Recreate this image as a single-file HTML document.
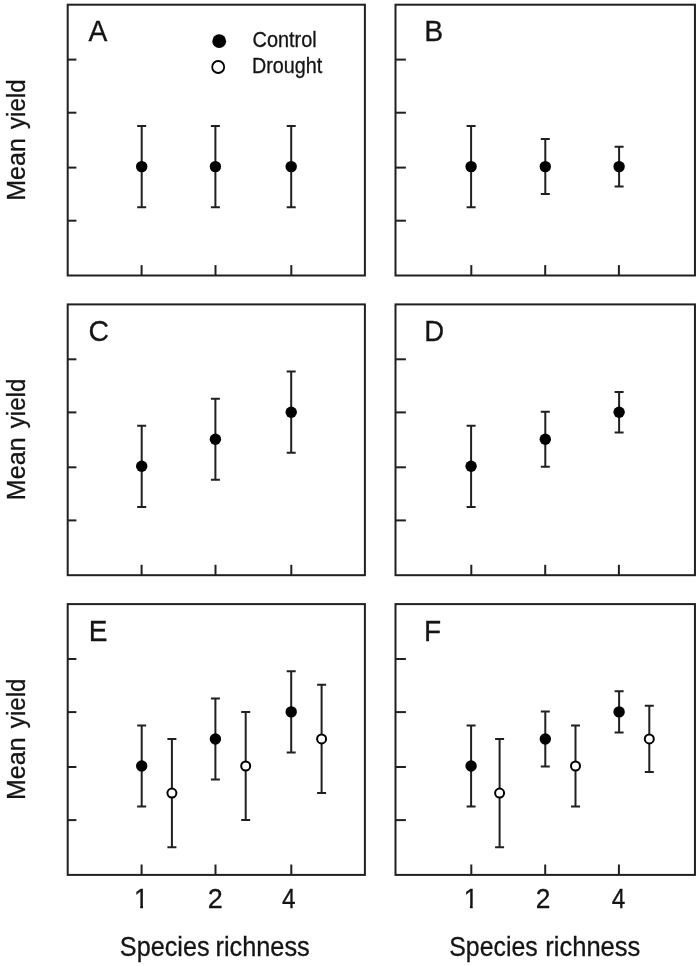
<!DOCTYPE html>
<html><head><meta charset="utf-8"><title>Mean yield vs species richness</title>
<style>html,body{margin:0;padding:0;background:#fff;width:700px;height:966px;overflow:hidden}svg{display:block}</style>
</head><body>
<svg width="700" height="966" viewBox="0 0 700 966">
<defs><clipPath id="c10"><rect x="-5" y="-30" width="40" height="26.88"/><rect x="6.54" y="-30" width="2.89" height="32"/></clipPath><clipPath id="c11"><rect x="-5" y="-30" width="40" height="26.88"/><rect x="6.54" y="-30" width="2.89" height="32"/></clipPath></defs>
<g stroke="#202020" stroke-width="2.0" fill="none" stroke-linecap="butt">
<rect x="67.7" y="4.7" width="297.2" height="270.8"/>
<line x1="67.7" y1="59.6" x2="76.4" y2="59.6"/>
<line x1="67.7" y1="112.7" x2="76.4" y2="112.7"/>
<line x1="67.7" y1="167.6" x2="76.4" y2="167.6"/>
<line x1="67.7" y1="220.7" x2="76.4" y2="220.7"/>
<line x1="141.6" y1="275.5" x2="141.6" y2="265.1"/>
<line x1="215.5" y1="275.5" x2="215.5" y2="265.1"/>
<line x1="291.3" y1="275.5" x2="291.3" y2="265.1"/>
<rect x="395.5" y="4.7" width="299.45" height="270.8"/>
<line x1="395.5" y1="59.6" x2="405.9" y2="59.6"/>
<line x1="395.5" y1="112.7" x2="405.9" y2="112.7"/>
<line x1="395.5" y1="167.6" x2="405.9" y2="167.6"/>
<line x1="395.5" y1="220.7" x2="405.9" y2="220.7"/>
<line x1="471.3" y1="275.5" x2="471.3" y2="265.1"/>
<line x1="545.2" y1="275.5" x2="545.2" y2="265.1"/>
<line x1="618.9" y1="275.5" x2="618.9" y2="265.1"/>
<rect x="67.7" y="304.4" width="297.2" height="270.8"/>
<line x1="67.7" y1="359.3" x2="76.4" y2="359.3"/>
<line x1="67.7" y1="412.4" x2="76.4" y2="412.4"/>
<line x1="67.7" y1="467.3" x2="76.4" y2="467.3"/>
<line x1="67.7" y1="520.4" x2="76.4" y2="520.4"/>
<line x1="141.6" y1="575.2" x2="141.6" y2="564.8"/>
<line x1="215.5" y1="575.2" x2="215.5" y2="564.8"/>
<line x1="291.3" y1="575.2" x2="291.3" y2="564.8"/>
<rect x="395.5" y="304.4" width="299.45" height="270.8"/>
<line x1="395.5" y1="359.3" x2="405.9" y2="359.3"/>
<line x1="395.5" y1="412.4" x2="405.9" y2="412.4"/>
<line x1="395.5" y1="467.3" x2="405.9" y2="467.3"/>
<line x1="395.5" y1="520.4" x2="405.9" y2="520.4"/>
<line x1="471.3" y1="575.2" x2="471.3" y2="564.8"/>
<line x1="545.2" y1="575.2" x2="545.2" y2="564.8"/>
<line x1="618.9" y1="575.2" x2="618.9" y2="564.8"/>
<rect x="67.7" y="604.1" width="297.2" height="270.8"/>
<line x1="67.7" y1="659" x2="76.4" y2="659"/>
<line x1="67.7" y1="712.1" x2="76.4" y2="712.1"/>
<line x1="67.7" y1="767" x2="76.4" y2="767"/>
<line x1="67.7" y1="820.1" x2="76.4" y2="820.1"/>
<line x1="141.6" y1="874.9" x2="141.6" y2="864.5"/>
<line x1="215.5" y1="874.9" x2="215.5" y2="864.5"/>
<line x1="291.3" y1="874.9" x2="291.3" y2="864.5"/>
<rect x="395.5" y="604.1" width="299.45" height="270.8"/>
<line x1="395.5" y1="659" x2="405.9" y2="659"/>
<line x1="395.5" y1="712.1" x2="405.9" y2="712.1"/>
<line x1="395.5" y1="767" x2="405.9" y2="767"/>
<line x1="395.5" y1="820.1" x2="405.9" y2="820.1"/>
<line x1="471.3" y1="874.9" x2="471.3" y2="864.5"/>
<line x1="545.2" y1="874.9" x2="545.2" y2="864.5"/>
<line x1="618.9" y1="874.9" x2="618.9" y2="864.5"/>
</g>
<g stroke="#202020" stroke-width="2.0" fill="none">
<path d="M141.7 126.03V207.18M137.2 126.03H146.2M137.2 207.18H146.2"/>
<path d="M215.4 126.03V207.18M210.9 126.03H219.9M210.9 207.18H219.9"/>
<path d="M291.2 126.03V207.18M286.7 126.03H295.7M286.7 207.18H295.7"/>
<path d="M471.1 126.03V207.18M466.6 126.03H475.6M466.6 207.18H475.6"/>
<path d="M545.3 139.12V194.08M540.8 139.12H549.8M540.8 194.08H549.8"/>
<path d="M619.1 146.64V186.56M614.6 146.64H623.6M614.6 186.56H623.6"/>
<path d="M141.7 425.73V506.88M137.2 425.73H146.2M137.2 506.88H146.2"/>
<path d="M215.4 398.68V479.82M210.9 398.68H219.9M210.9 479.82H219.9"/>
<path d="M291.2 371.62V452.77M286.7 371.62H295.7M286.7 452.77H295.7"/>
<path d="M471.1 425.73V506.88M466.6 425.73H475.6M466.6 506.88H475.6"/>
<path d="M545.3 411.77V466.73M540.8 411.77H549.8M540.8 466.73H549.8"/>
<path d="M619.1 391.91V432.49M614.6 391.91H623.6M614.6 432.49H623.6"/>
<path d="M141.7 725.42V806.58M137.2 725.42H146.2M137.2 806.58H146.2"/>
<path d="M215.4 698.38V779.53M210.9 698.38H219.9M210.9 779.53H219.9"/>
<path d="M291.2 671.33V752.48M286.7 671.33H295.7M286.7 752.48H295.7"/>
<path d="M171.9 738.95V847.15M167.4 738.95H176.4M167.4 847.15H176.4"/>
<path d="M245.7 711.9V820.1M241.2 711.9H250.2M241.2 820.1H250.2"/>
<path d="M321.6 684.85V793.05M317.1 684.85H326.1M317.1 793.05H326.1"/>
<path d="M471.1 725.42V806.58M466.6 725.42H475.6M466.6 806.58H475.6"/>
<path d="M545.3 711.47V766.43M540.8 711.47H549.8M540.8 766.43H549.8"/>
<path d="M619.1 691.34V732.46M614.6 691.34H623.6M614.6 732.46H623.6"/>
<path d="M499.6 738.95V847.15M495.1 738.95H504.1M495.1 847.15H504.1"/>
<path d="M575.5 725.42V806.58M571 725.42H580M571 806.58H580"/>
<path d="M649.3 705.79V772.11M644.8 705.79H653.8M644.8 772.11H653.8"/>
</g>
<circle cx="141.7" cy="166.6" r="5.7" fill="#000"/>
<circle cx="215.4" cy="166.6" r="5.7" fill="#000"/>
<circle cx="291.2" cy="166.6" r="5.7" fill="#000"/>
<circle cx="471.1" cy="166.6" r="5.7" fill="#000"/>
<circle cx="545.3" cy="166.6" r="5.7" fill="#000"/>
<circle cx="619.1" cy="166.6" r="5.7" fill="#000"/>
<circle cx="141.7" cy="466.3" r="5.7" fill="#000"/>
<circle cx="215.4" cy="439.25" r="5.7" fill="#000"/>
<circle cx="291.2" cy="412.2" r="5.7" fill="#000"/>
<circle cx="471.1" cy="466.3" r="5.7" fill="#000"/>
<circle cx="545.3" cy="439.25" r="5.7" fill="#000"/>
<circle cx="619.1" cy="412.2" r="5.7" fill="#000"/>
<circle cx="141.7" cy="766" r="5.7" fill="#000"/>
<circle cx="215.4" cy="738.95" r="5.7" fill="#000"/>
<circle cx="291.2" cy="711.9" r="5.7" fill="#000"/>
<circle cx="171.9" cy="793.05" r="4.5" fill="#fff" stroke="#000" stroke-width="2.0"/>
<circle cx="245.7" cy="766" r="4.5" fill="#fff" stroke="#000" stroke-width="2.0"/>
<circle cx="321.6" cy="738.95" r="4.5" fill="#fff" stroke="#000" stroke-width="2.0"/>
<circle cx="471.1" cy="766" r="5.7" fill="#000"/>
<circle cx="545.3" cy="738.95" r="5.7" fill="#000"/>
<circle cx="619.1" cy="711.9" r="5.7" fill="#000"/>
<circle cx="499.6" cy="793.05" r="4.5" fill="#fff" stroke="#000" stroke-width="2.0"/>
<circle cx="575.5" cy="766" r="4.5" fill="#fff" stroke="#000" stroke-width="2.0"/>
<circle cx="649.3" cy="738.95" r="4.5" fill="#fff" stroke="#000" stroke-width="2.0"/>
<circle cx="219.2" cy="41.2" r="6.9" fill="#000"/>
<circle cx="218.2" cy="67" r="6" fill="#fff" stroke="#000" stroke-width="1.8"/>
<g fill="#141414" stroke="#141414" stroke-width="0.3" font-family="'Liberation Sans', Arial, sans-serif" style="font-kerning:none">
<text transform="translate(88.44 41) scale(0.9585 1)" font-size="29.5">A</text>
<text transform="translate(424.27 41) scale(0.9617 1)" font-size="29.5">B</text>
<text transform="translate(88.56 340.5) scale(0.9635 1)" font-size="29.5">C</text>
<text transform="translate(424.34 340.6) scale(0.9329 1)" font-size="29.5">D</text>
<text transform="translate(88.8 640.6) scale(0.9507 1)" font-size="29.5">E</text>
<text transform="translate(424 640.6) scale(0.9502 1)" font-size="29.5">F</text>
<text transform="translate(252.59 47) scale(0.9341 1)" font-size="21.3">Control</text>
<text transform="translate(251.98 73.4) scale(0.9273 1)" font-size="21.3">Drought</text>
<text transform="translate(25.2 200.86) rotate(-90) scale(0.9436 1)" font-size="26.6">Mean</text>
<text transform="translate(25.2 128.96) rotate(-90) scale(0.9069 1)" font-size="26.6">yield</text>
<text transform="translate(25.2 500.16) rotate(-90) scale(0.9436 1)" font-size="26.6">Mean</text>
<text transform="translate(25.2 428.26) rotate(-90) scale(0.9069 1)" font-size="26.6">yield</text>
<text transform="translate(25.2 800.06) rotate(-90) scale(0.9436 1)" font-size="26.6">Mean</text>
<text transform="translate(25.2 728.16) rotate(-90) scale(0.9069 1)" font-size="26.6">yield</text>
<text transform="translate(207.74 908.2) scale(1.0000 1)" font-size="27.0">2</text>
<text transform="translate(282.04 908.2) scale(0.9040 1)" font-size="27.0">4</text>
<text transform="translate(535.68 908.2) scale(0.9756 1)" font-size="27.0">2</text>
<text transform="translate(611.74 908.2) scale(0.9040 1)" font-size="27.0">4</text>
<text clip-path="url(#c10)" transform="translate(133.94 908.2) scale(0.96 1)" font-size="27.0">1</text>
<text clip-path="url(#c11)" transform="translate(463.64 908.2) scale(0.96 1)" font-size="27.0">1</text>
<text transform="translate(119.86 955.8) scale(0.9334 1)" font-size="27.0">Species</text>
<text transform="translate(215.52 955.8) scale(0.9379 1)" font-size="27.0">richness</text>
<text transform="translate(449.27 955.8) scale(0.9216 1)" font-size="27.0">Species</text>
<text transform="translate(545.2 955.8) scale(0.9471 1)" font-size="27.0">richness</text>
</g>
</svg>
</body></html>
